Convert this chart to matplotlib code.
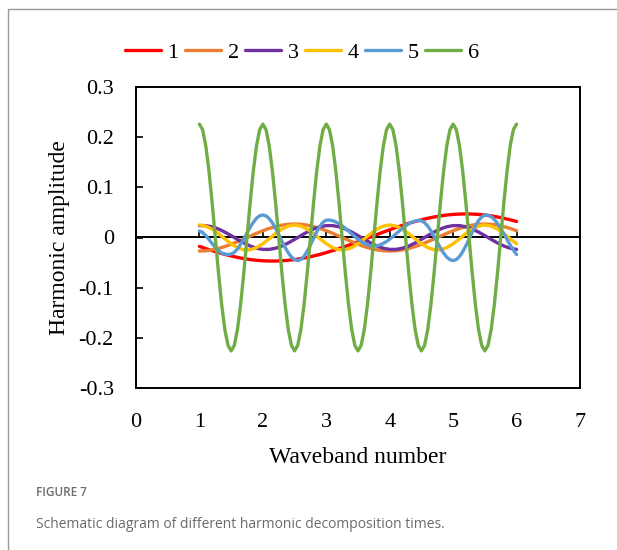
import numpy as np
import matplotlib
matplotlib.use("Agg")
import matplotlib.pyplot as plt
from matplotlib.patches import Rectangle

plt.rcParams['font.family'] = ['Liberation Serif', 'DejaVu Serif']
plt.rcParams['axes.unicode_minus'] = False

# ---------------- data ----------------
series_names = ["1", "2", "3", "4", "5", "6"]
colors = ["#FF0000", "#ED7D31", "#7030A0", "#FFC000", "#5B9BD5", "#70AD47"]

x_coarse = np.round(np.linspace(1, 6, 51), 2)   # step 0.1
x_fine = np.round(np.linspace(1, 6, 101), 3)    # step 0.05

h1 = [-0.0177, -0.0221, -0.0262, -0.0301, -0.0337, -0.0368, -0.0397, -0.0420, -0.0440, -0.0454,
      -0.0464, -0.0469, -0.0469, -0.0464, -0.0454, -0.0440, -0.0420, -0.0397, -0.0368, -0.0337,
      -0.0301, -0.0262, -0.0221, -0.0177, -0.0132, -0.0084, -0.0036, 0.0012, 0.0060, 0.0108,
      0.0154, 0.0199, 0.0242, 0.0282, 0.0319, 0.0353, 0.0383, 0.0409, 0.0430, 0.0448,
      0.0460, 0.0467, 0.0470, 0.0468, 0.0460, 0.0448, 0.0431, 0.0409, 0.0383, 0.0353,
      0.0320]

h2 = [-0.0270, -0.0264, -0.0247, -0.0218, -0.0181, -0.0135, -0.0083, -0.0028, 0.0028, 0.0083,
      0.0135, 0.0181, 0.0218, 0.0247, 0.0264, 0.0270, 0.0264, 0.0247, 0.0218, 0.0181,
      0.0135, 0.0083, 0.0028, -0.0028, -0.0083, -0.0135, -0.0181, -0.0218, -0.0247, -0.0264,
      -0.0270, -0.0264, -0.0247, -0.0218, -0.0181, -0.0135, -0.0083, -0.0028, 0.0028, 0.0083,
      0.0135, 0.0181, 0.0218, 0.0247, 0.0264, 0.0270, 0.0264, 0.0247, 0.0218, 0.0181,
      0.0135]

h3 = [0.0237, 0.0237, 0.0214, 0.0170, 0.0109, 0.0038, -0.0038, -0.0109, -0.0170, -0.0214,
      -0.0237, -0.0237, -0.0214, -0.0170, -0.0109, -0.0038, 0.0038, 0.0109, 0.0170, 0.0214,
      0.0237, 0.0237, 0.0214, 0.0170, 0.0109, 0.0038, -0.0038, -0.0109, -0.0170, -0.0214,
      -0.0237, -0.0237, -0.0214, -0.0170, -0.0109, -0.0038, 0.0038, 0.0109, 0.0170, 0.0214,
      0.0237, 0.0237, 0.0214, 0.0170, 0.0109, 0.0038, -0.0038, -0.0109, -0.0170, -0.0214,
      -0.0237]

h4 = [0.0250, 0.0228, 0.0167, 0.0077, -0.0026, -0.0125, -0.0202, -0.0245, -0.0245, -0.0202,
      -0.0125, -0.0026, 0.0077, 0.0167, 0.0228,
      0.0250, 0.0228, 0.0167, 0.0077, -0.0026, -0.0125, -0.0202, -0.0245, -0.0245, -0.0202,
      -0.0125, -0.0026, 0.0077, 0.0167, 0.0228,
      0.0250, 0.0228, 0.0167, 0.0077, -0.0026, -0.0125, -0.0202, -0.0245, -0.0245, -0.0202,
      -0.0125, -0.0026, 0.0077, 0.0167, 0.0228,
      0.0250, 0.0228, 0.0167, 0.0077, -0.0026, -0.0125]

h5 = [0.0130, 0.0100, 0.0040, -0.0040, -0.0120, -0.0200, -0.0260, -0.0310, -0.0330, -0.0340,
      -0.0330, -0.0296, -0.0228, -0.0136, -0.0026, 0.0090, 0.0204, 0.0304, 0.0383, 0.0433,
      0.0450, 0.0431, 0.0378, 0.0293, 0.0184, 0.0060, -0.0070, -0.0194, -0.0303, -0.0388,
      -0.0441, -0.0460, -0.0438, -0.0373, -0.0273, -0.0149, -0.0015, 0.0116, 0.0226, 0.0307,
      0.0346, 0.0348, 0.0335, 0.0310, 0.0276, 0.0233, 0.0183, 0.0129, 0.0073, 0.0018,
      -0.0034, -0.0080, -0.0118, -0.0146, -0.0164, -0.0170, -0.0164, -0.0146, -0.0117, -0.0079,
      -0.0033, 0.0019, 0.0074, 0.0129, 0.0183, 0.0231, 0.0273, 0.0306, 0.0328, 0.0339,
      0.0334, 0.0296, 0.0227, 0.0133, 0.0022, -0.0096, -0.0210, -0.0312, -0.0392, -0.0442,
      -0.0460, -0.0440, -0.0380, -0.0286, -0.0167, -0.0033, 0.0104, 0.0231, 0.0336, 0.0410,
      0.0447, 0.0445, 0.0414, 0.0358, 0.0279, 0.0182, 0.0074, -0.0039, -0.0150, -0.0252,
      -0.0339]

h6 = [0.226, 0.215, 0.183, 0.133, 0.070, 0.000, -0.070, -0.133, -0.183, -0.215,
      -0.226, -0.215, -0.183, -0.133, -0.070, 0.000, 0.070, 0.133, 0.183, 0.215,
      0.226, 0.215, 0.183, 0.133, 0.070, 0.000, -0.070, -0.133, -0.183, -0.215,
      -0.226, -0.215, -0.183, -0.133, -0.070, 0.000, 0.070, 0.133, 0.183, 0.215,
      0.226, 0.215, 0.183, 0.133, 0.070, 0.000, -0.070, -0.133, -0.183, -0.215,
      -0.226, -0.215, -0.183, -0.133, -0.070, 0.000, 0.070, 0.133, 0.183, 0.215,
      0.226, 0.215, 0.183, 0.133, 0.070, 0.000, -0.070, -0.133, -0.183, -0.215,
      -0.226, -0.215, -0.183, -0.133, -0.070, 0.000, 0.070, 0.133, 0.183, 0.215,
      0.226, 0.215, 0.183, 0.133, 0.070, 0.000, -0.070, -0.133, -0.183, -0.215,
      -0.226, -0.215, -0.183, -0.133, -0.070, 0.000, 0.070, 0.133, 0.183, 0.215,
      0.226]

x_ticks = [0, 1, 2, 3, 4, 5, 6, 7]
y_ticks = [-0.3, -0.2, -0.1, 0.0, 0.1, 0.2, 0.3]
y_tick_labels = ["-0.3", "-0.2", "-0.1", "0", "0.1", "0.2", "0.3"]

x_label = "Waveband number"
y_label = "Harmonic amplitude"
caption_title = "FIGURE 7"
caption_text = "Schematic diagram of different harmonic decomposition times."

# ---------------- figure ----------------
fig = plt.figure(figsize=(6.17, 5.5), dpi=100)
fig.patch.set_facecolor("white")

# outer grey frame
fig.patches.append(Rectangle((8 / 617, -0.2), 1.2, 1 - 9 / 550 + 0.2,
                             transform=fig.transFigure, fill=False,
                             edgecolor="#9a9a9a", linewidth=1.0))

ax = fig.add_axes([136 / 617, 1 - 388 / 550, 444 / 617, 301 / 550])

xs = [x_coarse, x_coarse, x_coarse, x_coarse, x_fine, x_fine]
ys = [h1, h2, h3, h4, h5, h6]
handles = []
for name, c, xv, yv in zip(series_names, colors, xs, ys):
    ln, = ax.plot(xv, yv, color=c, lw=2.4, label=name, solid_capstyle="round")
    handles.append(ln)

ax.set_xlim(0, 7)
ax.set_ylim(-0.3, 0.3)
ax.set_xticks(x_ticks)
ax.set_yticks(y_ticks)
ax.set_yticklabels(y_tick_labels)

for s in ax.spines.values():
    s.set_linewidth(1.4)
    s.set_color("black")

ax.tick_params(axis="y", direction="in", length=5, width=1.2, labelsize=16, pad=16)
ax.tick_params(axis="x", length=0, labelsize=16, pad=18)

# horizontal axis crossing at zero with tick marks
sec = ax.secondary_xaxis(0.5)
sec.set_xticks(x_ticks)
sec.set_xticklabels([])
sec.xaxis.set_ticks_position("bottom")
sec.tick_params(axis="x", direction="in", length=5, width=1.2,
                labelbottom=False, labeltop=False)
for s in sec.spines.values():
    s.set_linewidth(1.4)

ax.set_xlabel(x_label, fontsize=17, labelpad=11)
ax.set_ylabel(y_label, fontsize=17, labelpad=6)

fig.legend(handles=handles, labels=series_names, loc="center",
           bbox_to_anchor=(302 / 617, 1 - 53 / 550), ncol=6, frameon=False,
           fontsize=16, handlelength=1.6, handletextpad=0.3, columnspacing=0.3)

fig.text(36 / 617, 1 - 493 / 550, caption_title, fontsize=8.5, color="#6b6b6b",
         fontweight="semibold", family=["Open Sans", "DejaVu Sans"],
         va="center", ha="left")
fig.text(36 / 617, 1 - 525 / 550, caption_text, fontsize=10, color="#6b6b6b",
         family=["Open Sans", "DejaVu Sans"], va="center", ha="left")

fig.savefig("out.png", dpi=100)
